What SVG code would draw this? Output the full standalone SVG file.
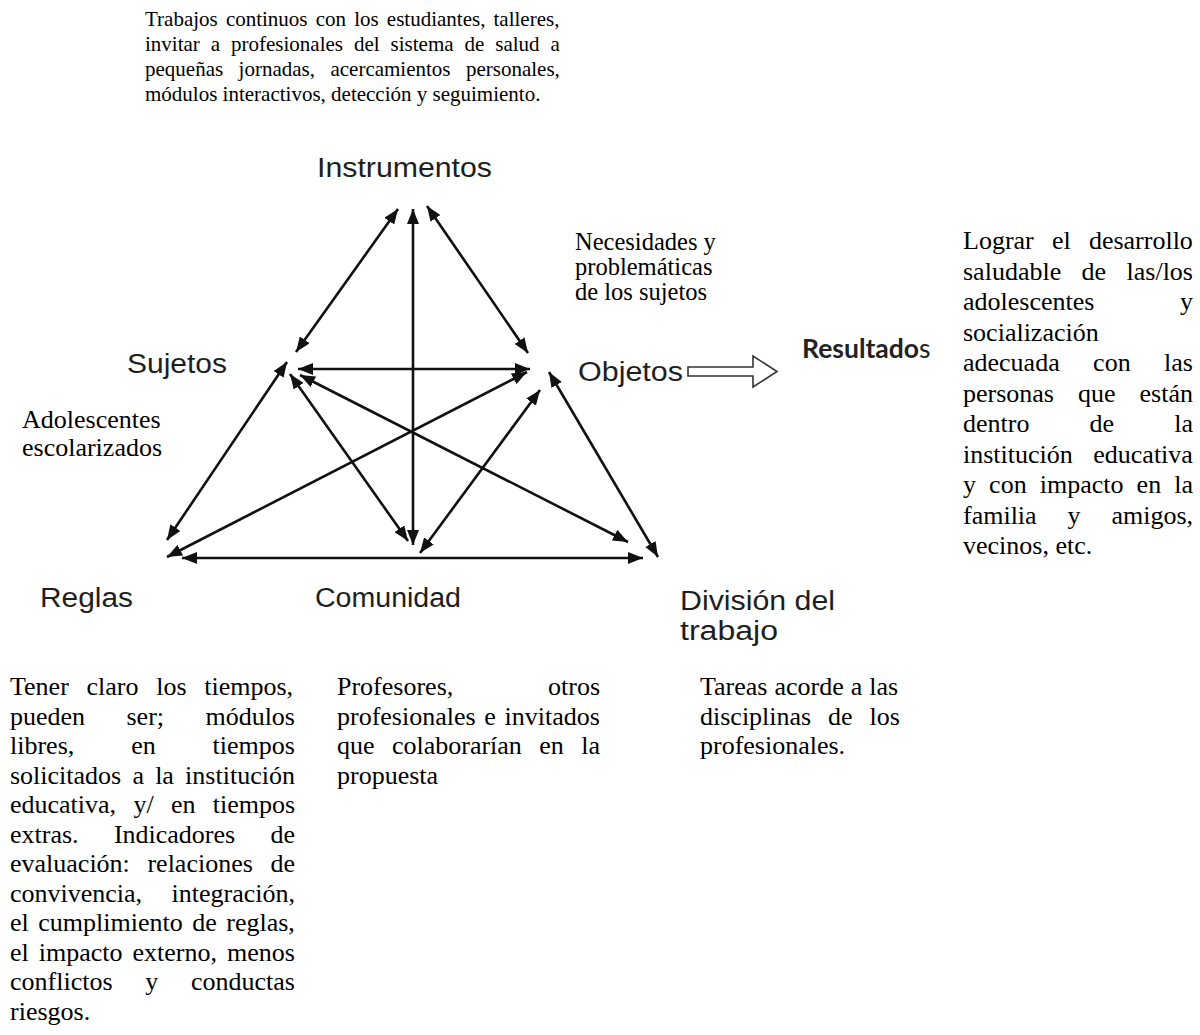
<svg xmlns="http://www.w3.org/2000/svg" width="1200" height="1035" viewBox="0 0 1200 1035">
<style>
.s{font-family:"Liberation Serif","Times New Roman",serif;fill:#000}
.lab{font-family:"Liberation Sans",Arial,sans-serif;font-size:27px;fill:#1e1e1e}
.ln{stroke:#111;stroke-width:2.6;fill:none;marker-start:url(#ah);marker-end:url(#ah)}
</style>
<defs>
<marker id="ah" markerWidth="15" markerHeight="12" refX="15" refY="6" orient="auto-start-reverse" markerUnits="userSpaceOnUse"><path d="M0,0 L15,6 L0,12 z" fill="#111"/></marker>
</defs>
<rect width="1200" height="1035" fill="#fff"/>

<g id="nota-instrumentos" class="s" font-size="21">
<text x="145" y="26" word-spacing="2.9">Trabajos continuos con los estudiantes, talleres,</text>
<text x="145" y="51" word-spacing="5.7">invitar a profesionales del sistema de salud a</text>
<text x="145" y="76" word-spacing="10.2">pequeñas jornadas, acercamientos personales,</text>
<text x="145" y="101">módulos interactivos, detección y seguimiento.</text>
</g>

<g id="instrumentos"><text class="lab" x="317" y="177" textLength="175" lengthAdjust="spacingAndGlyphs">Instrumentos</text></g>
<g id="sujetos"><text class="lab" x="127" y="373" textLength="100" lengthAdjust="spacingAndGlyphs">Sujetos</text></g>
<g id="objetos"><text class="lab" x="578" y="381" textLength="105" lengthAdjust="spacingAndGlyphs">Objetos</text>
<path d="M688,367 L753,367 L753,356 L777,371.5 L753,387 L753,376 L688,376 Z" fill="#fff" stroke="#333" stroke-width="1.6"/></g>
<g id="resultados"><text x="802" y="358" font-family="Lato,'Open Sans',sans-serif" font-size="26.5" fill="#222"><tspan font-weight="bold">Resultado</tspan><tspan>s</tspan></text></g>
<g id="reglas"><text class="lab" x="40" y="607" textLength="93" lengthAdjust="spacingAndGlyphs">Reglas</text></g>
<g id="comunidad"><text class="lab" x="315" y="607" textLength="146" lengthAdjust="spacingAndGlyphs">Comunidad</text></g>
<g id="division"><text class="lab" x="680" y="610" textLength="155" lengthAdjust="spacingAndGlyphs">División del</text>
<text class="lab" x="680" y="640" textLength="98" lengthAdjust="spacingAndGlyphs">trabajo</text></g>

<g id="nota-objetos" class="s" font-size="24.5">
<text x="575" y="250">Necesidades y</text>
<text x="575" y="275">problemáticas</text>
<text x="575" y="300">de los sujetos</text>
</g>

<g id="nota-sujetos" class="s" font-size="26">
<text x="22" y="428">Adolescentes</text>
<text x="22" y="456">escolarizados</text>
</g>

<g id="nota-resultados" class="s" font-size="26">
<text x="963" y="249" word-spacing="11.7">Lograr el desarrollo</text>
<text x="963" y="279.5" word-spacing="13.9">saludable de las/los</text>
<text x="963" y="310">adolescentes</text><text x="1193" y="310" text-anchor="end">y</text>
<text x="963" y="340.5">socialización</text>
<text x="963" y="371" word-spacing="26.9">adecuada con las</text>
<text x="963" y="401.5" word-spacing="17.5">personas que están</text>
<text x="963" y="432" word-spacing="53.6">dentro de la</text>
<text x="963" y="462.5" word-spacing="14">institución educativa</text>
<text x="963" y="493" word-spacing="6.6">y con impacto en la</text>
<text x="963" y="523.5" word-spacing="24.4">familia y amigos,</text>
<text x="963" y="554">vecinos, etc.</text>
</g>

<g id="nota-reglas" class="s" font-size="26">
<text x="10" y="695" word-spacing="11.2">Tener claro los tiempos,</text>
<text x="10" y="724.5" word-spacing="34.9">pueden ser; módulos</text>
<text x="10" y="754" word-spacing="50.4">libres, en tiempos</text>
<text x="10" y="783.5" word-spacing="4.7">solicitados a la institución</text>
<text x="10" y="813" word-spacing="10.8">educativa, y/ en tiempos</text>
<text x="10" y="842.5" word-spacing="28.8">extras. Indicadores de</text>
<text x="10" y="872" word-spacing="11.1">evaluación: relaciones de</text>
<text x="10" y="901.5" word-spacing="22.9">convivencia, integración,</text>
<text x="10" y="931" word-spacing="3">el cumplimiento de reglas,</text>
<text x="10" y="960.5" word-spacing="3.5">el impacto externo, menos</text>
<text x="10" y="990" word-spacing="26.2">conflictos y conductas</text>
<text x="10" y="1019.5">riesgos.</text>
</g>

<g id="nota-comunidad" class="s" font-size="26">
<text x="337" y="695">Profesores,</text><text x="600" y="695" text-anchor="end">otros</text>
<text x="337" y="724.5" word-spacing="2.2">profesionales e invitados</text>
<text x="337" y="754" word-spacing="10.9">que colaborarían en la</text>
<text x="337" y="783.5">propuesta</text>
</g>

<g id="nota-division" class="s" font-size="26">
<text x="700" y="695" word-spacing="0.5">Tareas acorde a las</text>
<text x="700" y="724.5" word-spacing="10.4">disciplinas de los</text>
<text x="700" y="754">profesionales.</text>
</g>

<g id="connectors">
<line class="ln" x1="296" y1="352" x2="398" y2="209"/>
<line class="ln" x1="413" y1="545" x2="413" y2="209"/>
<line class="ln" x1="528" y1="353" x2="427" y2="206"/>
<line class="ln" x1="298" y1="369" x2="530" y2="369"/>
<line class="ln" x1="287" y1="362" x2="167" y2="540"/>
<line class="ln" x1="290" y1="374" x2="408" y2="541"/>
<line class="ln" x1="300" y1="375" x2="628" y2="542"/>
<line class="ln" x1="527" y1="372" x2="167" y2="557"/>
<line class="ln" x1="540" y1="390" x2="420" y2="553"/>
<line class="ln" x1="549" y1="372" x2="658" y2="557"/>
<line class="ln" x1="182" y1="558" x2="643" y2="558"/>
</g>
</svg>
